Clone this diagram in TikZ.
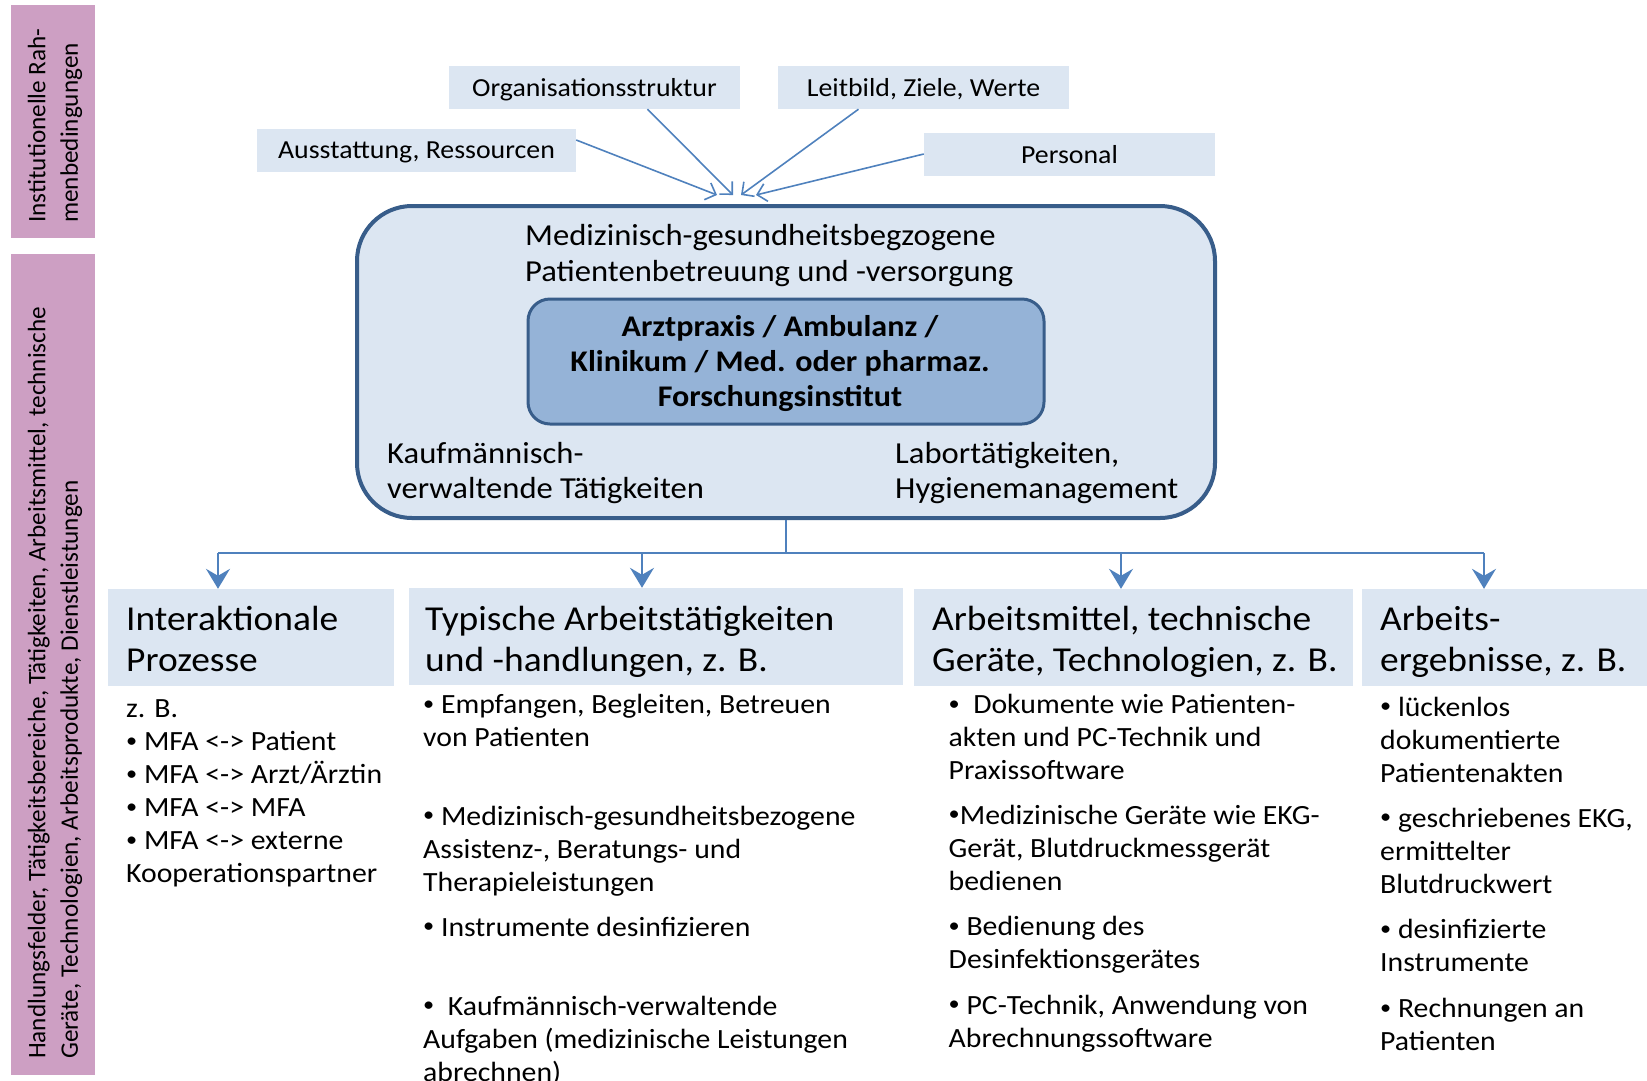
\documentclass[tikz,border=0pt]{standalone}
\usepackage{fontspec}
\setmainfont{Carlito}[FakeStretch=1.07]
\newfontfamily\rotfont{Carlito}
\usetikzlibrary{arrows.meta}
\definecolor{lb}{RGB}{220,230,242}
\definecolor{mb}{RGB}{149,179,215}
\definecolor{db}{RGB}{56,93,138}
\definecolor{ab}{RGB}{79,129,189}
\definecolor{pk}{RGB}{205,159,195}
\newcommand\bul{\raisebox{0.12em}{\scalebox{0.75}{•}}}
\begin{document}
\begin{tikzpicture}[x=1pt,y=-1pt,
  pinkbox/.style={fill=pk, inner sep=0pt},
  topbox/.style={fill=lb, inner sep=0pt, minimum width=291pt, minimum height=43pt, text depth=0pt, font=\fontsize{26}{31}\selectfont},
  hdrbox/.style={fill=lb, inner sep=0pt, minimum height=97pt},
  txt/.style={inner sep=0pt, anchor=north west, align=left, execute at begin node=\strut},
  hdr/.style={txt, font=\fontsize{35}{41}\selectfont},
  body/.style={txt, font=\fontsize{27.8}{33}\selectfont},
  rot/.style={inner sep=0pt, rotate=90, anchor=west, align=left, font=\rotfont\fontsize{25.2}{32.5}\selectfont},
  tarr/.style={draw=ab, line width=1.6pt, -{Straight Barb[length=9pt,width=18pt]}},
  conn/.style={draw=ab, line width=1.8pt},
  carr/.style={conn, -{Stealth[length=20pt,width=24pt,inset=7pt]}}
]
\useasboundingbox (0,0) rectangle (1647,1080);

% pink side boxes
\node[pinkbox, minimum width=84pt, minimum height=233pt] (p1) at (52.5,121.5) {};
\node[pinkbox, minimum width=84pt, minimum height=821pt] (p2) at (52.5,664.5) {};
\node[rot] (p1t) at (55,223) {Institutionelle Rah-\\menbedingungen};
\node[rot] (p2t) at (55,1059) {Handlungsfelder, Tätigkeitsbereiche, Tätigkeiten, Arbeitsmittel, technische\\Geräte, Technologien, Arbeitsprodukte, Dienstleistungen};

% top boxes
\node[topbox] (org) at (594.5,87.5) {Organisationsstruktur};
\node[topbox] (lei) at (923.5,87.5) {Leitbild, Ziele, Werte};
\node[topbox, minimum width=319pt] (aus) at (416.5,150) {Ausstattung, Ressourcen};
\node[topbox] (per) at (1069.5,154) {Personal};

% main box
\node[fill=lb, draw=db, line width=4pt, rounded corners=55pt, minimum width=858pt, minimum height=312pt] (main) at (786,362) {};
\node[fill=mb, draw=db, line width=3pt, rounded corners=22pt, minimum width=516pt, minimum height=125pt] (inner) at (786,361.5) {};
\node[txt, font=\fontsize{30.5}{36.5}\selectfont] (mt) at (525,223.8) {Medizinisch-gesundheitsbegzogene\\Patientenbetreuung und -versorgung};
\node[inner sep=0pt, anchor=north, align=center, execute at begin node=\strut, font=\bfseries\fontsize{30}{35}\selectfont] (it) at (780,315.7) {Arztpraxis / Ambulanz /\\Klinikum / Med. oder pharmaz.\\Forschungsinstitut};
\node[txt, font=\fontsize{30.5}{35}\selectfont] (kt) at (387,441.7) {Kaufmännisch-\\verwaltende Tätigkeiten};
\node[txt, font=\fontsize{30.5}{35}\selectfont] (lt) at (895,441.7) {Labortätigkeiten,\\Hygienemanagement};

% top arrows
\draw[tarr] ([yshift=10pt]aus.east) -- ([xshift=-69pt,yshift=9pt]main.north);
\draw[tarr] ([xshift=53pt]org.south) -- ([xshift=-53pt,yshift=9pt]main.north);
\draw[tarr] ([xshift=-65pt]lei.south) -- ([xshift=-45pt,yshift=9pt]main.north);
\draw[tarr] (per.west) -- ([xshift=-30pt,yshift=9pt]main.north);

% header boxes
\node[hdrbox, minimum width=286pt] (h1) at (251,637.5) {};
\node[hdrbox, minimum width=494pt] (h2) at (656,636.5) {};
\node[hdrbox, minimum width=439pt] (h3) at (1133.5,637.5) {};
\node[hdrbox, minimum width=285pt] (h4) at (1504.5,637.5) {};

% connectors
\coordinate (j) at (786,553);
\coordinate (b1) at (218,553);
\coordinate (b2) at (642,553);
\coordinate (b3) at (1121,553);
\coordinate (b4) at (1484,553);
\draw[conn] (main.south) -- (j);
\draw[conn] (b1) -- (b4);
\draw[carr] (b1) -- (b1 |- h1.north);
\draw[carr] (b2) -- (b2 |- h2.north);
\draw[carr] (b3) -- (b3 |- h3.north);
\draw[carr] (b4) -- (b4 |- h4.north);

% header texts
\node[hdr] (h1t) at (126,605.6) {Interaktionale\\Prozesse};
\node[hdr] (h2t) at (425,605.6) {Typische Arbeitstätigkeiten\\und -handlungen, z. B.};
\node[hdr] (h3t) at (932,605.6) {Arbeitsmittel, technische\\Geräte, Technologien, z. B.};
\node[hdr] (h4t) at (1380,605.6) {Arbeits-\\ergebnisse, z. B.};

% column 1
\node[body] (c1a) at (126,699.7) {z. B.\\\bul{} MFA <-> Patient\\\bul{} MFA <-> Arzt/Ärztin\\\bul{} MFA <-> MFA\\\bul{} MFA <-> externe\\Kooperationspartner};

% column 2
\node[body] (c2a) at (423,694.4) {\bul{} Empfangen, Begleiten, Betreuen\\von Patienten};
\node[body] (c2b) at (423,805.7) {\bul{} Medizinisch-gesundheitsbezogene\\Assistenz-, Beratungs- und\\Therapieleistungen};
\node[body] (c2c) at (423,912.8) {\bul{} Instrumente desinfizieren};
\node[body] (c2d) at (423,995.8) {\bul\ \ Kaufmännisch-verwaltende\\Aufgaben (medizinische Leistungen\\abrechnen)};

% column 3
\node[body] (c3a) at (948.5,694) {\bul\ \ Dokumente wie Patienten-\\akten und PC-Technik und\\Praxissoftware};
\node[body] (c3b) at (948.5,804.7) {\bul{}Medizinische Geräte wie EKG-\\Gerät, Blutdruckmessgerät\\bedienen};
\node[body] (c3c) at (948.5,916) {\bul{} Bedienung des\\Desinfektionsgerätes};
\node[body] (c3d) at (948.5,994.8) {\bul{} PC-Technik, Anwendung von\\Abrechnungssoftware};

% column 4
\node[body] (c4a) at (1380,696.5) {\bul{} lückenlos\\dokumentierte\\Patientenakten};
\node[body] (c4b) at (1380,807.8) {\bul{} geschriebenes EKG,\\ermittelter\\Blutdruckwert};
\node[body] (c4c) at (1380,919.2) {\bul{} desinfizierte\\Instrumente};
\node[body] (c4d) at (1380,997.9) {\bul{} Rechnungen an\\Patienten};
\end{tikzpicture}
\end{document}
